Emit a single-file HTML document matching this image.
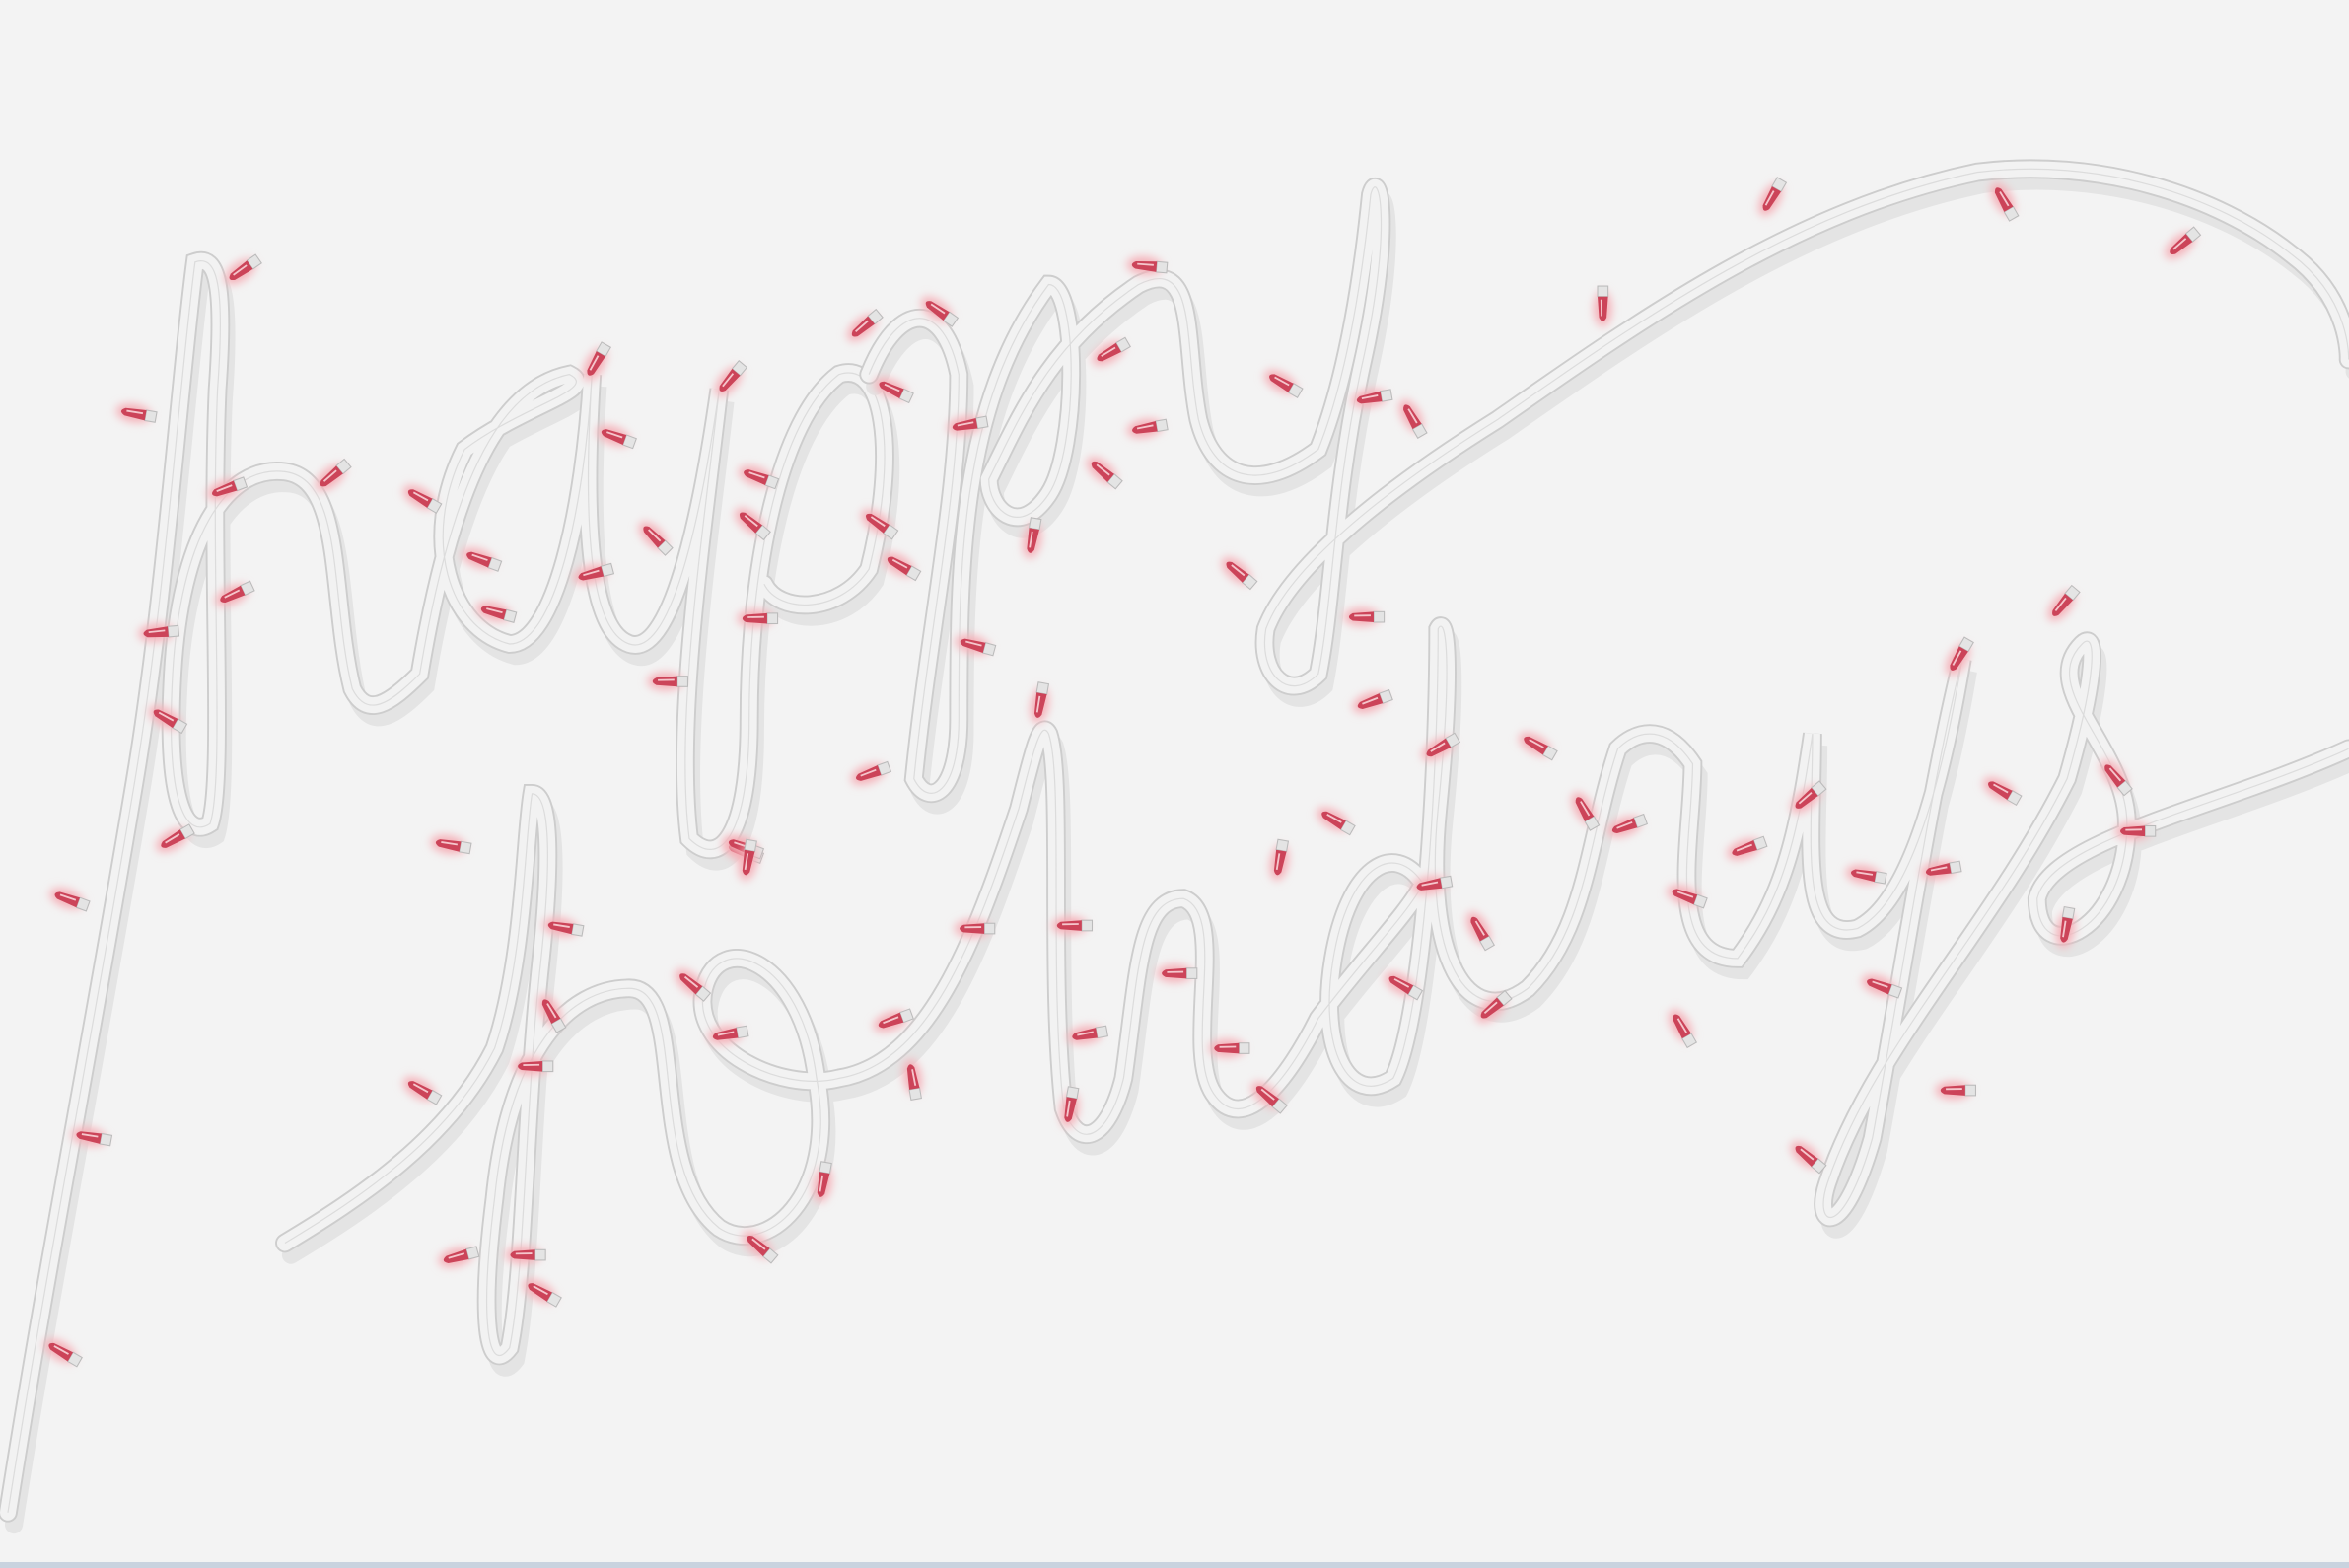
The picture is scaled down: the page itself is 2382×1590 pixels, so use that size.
<!DOCTYPE html>
<html>
<head>
<meta charset="utf-8">
<style>
html,body{margin:0;padding:0;background:#f3f3f3;}
#wrap{width:2382px;height:1590px;position:relative;overflow:hidden;background:#f3f3f3;}
svg{position:absolute;left:0;top:0;}
#bottom-line{position:absolute;left:0;top:1584px;width:2382px;height:6px;background:#c9d3df;}
</style>
</head>
<body>
<div id="wrap">
<svg id="art" width="2382" height="1590" viewBox="0 0 1568 1047">
  <defs>
    <filter id="glow" x="-100%" y="-100%" width="300%" height="300%">
      <feGaussianBlur stdDeviation="3"/>
    </filter>
  </defs>
  <text x="700" y="600" font-family="Liberation Serif, serif" font-size="40" fill="#f3f3f3" fill-opacity="0.02">happy holidays</text>
  <g id="cords"></g>
  <g id="bulbs"></g>
</svg>
<div id="bottom-line"></div>
</div>
<script>
const cordPaths = [
"M5,1010 C30,850 60,700 90,520 C110,400 120,250 130,175 C145,170 150,190 145,260 C140,380 150,520 140,550 C125,560 110,540 115,450 C120,360 150,310 190,315 C230,320 220,400 235,460 C245,480 260,470 280,450 C300,330 330,260 380,250 C400,260 350,270 310,300 C280,360 300,420 340,430 C370,430 390,340 395,250 C390,330 390,420 420,430 C450,440 470,330 480,260 C470,350 450,480 460,560 C480,580 500,560 500,480 C500,380 520,280 560,250 C590,240 600,300 580,380 C560,410 520,410 510,390",
"M580,250 C600,200 630,200 640,250 C640,330 620,420 610,520 C620,540 640,530 640,480 C640,380 640,270 700,190 C720,190 720,300 700,330 C680,360 660,340 660,320 C680,280 700,230 760,190 C800,170 790,230 800,280 C810,320 840,330 880,300 C900,250 910,180 915,130 C920,110 930,150 910,240 C890,330 890,400 880,450 C860,470 840,450 845,420 C860,380 920,330 1000,280 C1100,210 1200,140 1320,115 C1400,105 1480,130 1530,170 C1570,200 1568,240 1568,240",
"M190,830 C240,800 300,760 330,700 C350,640 350,560 355,530 C365,530 370,560 360,650 C350,750 350,850 340,900 C325,920 320,880 330,800 C340,700 380,660 420,660 C460,660 430,780 480,820 C510,840 560,800 545,720 C535,640 480,620 470,660 C460,700 520,730 560,720 C620,710 650,630 680,540 C690,500 695,480 700,490 C710,520 700,650 710,740 C720,770 740,760 750,720 C760,650 760,600 790,600 C820,610 790,700 810,730 C830,760 860,720 880,680 C910,640 940,610 950,590 C930,560 900,580 890,640 C880,700 900,740 930,720 C950,680 960,520 960,420 C965,410 970,440 960,540 C950,640 980,690 1020,660 C1060,620 1060,560 1080,500 C1090,490 1110,480 1130,510 C1130,560 1110,640 1160,640 C1190,600 1200,560 1210,490 C1210,560 1200,630 1240,620 C1280,600 1300,500 1310,440 C1290,520 1270,650 1250,760 C1230,830 1210,820 1220,790 C1250,700 1330,620 1380,520 C1400,450 1400,420 1390,430 C1360,460 1420,500 1420,550 C1420,620 1360,650 1360,600 C1370,560 1480,540 1568,500"
];
const bulbX = [165,95,155,225,110,160,115,120,50,65,45,285,325,335,400,415,400,440,450,490,510,505,510,500,580,630,600,590,605,650,655,585,500,770,745,740,690,770,860,920,945,830,915,920,1070,1185,1340,1460,305,380,370,285,360,355,310,365,465,490,500,600,610,550,510,655,695,720,730,790,715,825,850,855,895,960,965,990,940,1000,1030,1060,1090,1130,1125,1170,1210,1250,1300,1310,1260,1210,1310,1340,1380,1415,1430,1380];
const bulbY = [178,277,325,315,422,395,482,558,602,760,905,335,375,410,238,293,382,362,455,250,320,352,413,570,215,210,262,352,380,283,432,515,567,178,233,318,355,285,258,265,283,385,412,467,200,128,138,160,565,620,680,730,712,838,838,865,660,690,570,680,725,785,835,620,465,618,690,650,735,700,735,570,550,590,497,625,660,670,500,545,550,600,690,565,530,585,580,435,660,775,728,530,400,522,555,615];
const bulbA = [-35,10,-20,-40,-5,-25,30,-30,20,10,30,30,20,15,-60,20,-15,45,0,-50,20,40,0,20,-40,35,25,35,30,-10,15,-20,20,5,-30,40,-80,-10,30,-10,60,40,0,-20,-90,-60,60,-40,10,10,60,30,0,0,-15,30,40,-10,-80,-20,80,-80,40,0,-80,0,-10,0,-80,0,40,-80,30,-10,-30,60,30,-40,30,60,-20,20,60,-20,-40,10,-10,-60,20,40,0,30,-50,50,0,-80];

const NS = "http://www.w3.org/2000/svg";
const cords = document.getElementById('cords');
cordPaths.forEach((d, i) => {
  const sh = document.createElementNS(NS, 'path');
  sh.setAttribute('d', d);
  sh.setAttribute('transform', 'translate(4,8)');
  sh.setAttribute('fill', 'none');
  sh.setAttribute('stroke', '#e4e4e4');
  sh.setAttribute('stroke-width', '12');
  sh.setAttribute('stroke-linecap', 'round');
  
  
  cords.appendChild(sh);
  const o = document.createElementNS(NS, 'path');
  o.setAttribute('d', d);
  o.setAttribute('fill', 'none');
  o.setAttribute('stroke', '#cdcdcd');
  o.setAttribute('stroke-width', '13');
  o.setAttribute('stroke-linecap', 'round');
  
  
  cords.appendChild(o);
  const p = document.createElementNS(NS, 'path');
  p.setAttribute('d', d);
  p.setAttribute('fill', 'none');
  p.setAttribute('stroke', '#f2f2f2');
  p.setAttribute('stroke-width', '10.5');
  p.setAttribute('stroke-linecap', 'round');
  
  
  cords.appendChild(p);
  const c = document.createElementNS(NS, 'path');
  c.setAttribute('d', d);
  c.setAttribute('fill', 'none');
  c.setAttribute('stroke', '#dcdcdc');
  c.setAttribute('stroke-width', '0.8');
  
  
  cords.appendChild(c);
});
const bulbs = document.getElementById('bulbs');
bulbX.forEach((x, i) => {
  const g = document.createElementNS(NS, 'g');
  g.setAttribute('transform', 'translate(' + x + ',' + bulbY[i] + ') rotate(' + bulbA[i] + ')');
  
  
  const glow = document.createElementNS(NS, 'ellipse');
  glow.setAttribute('cx', '-6'); glow.setAttribute('cy', '0');
  glow.setAttribute('rx', '12'); glow.setAttribute('ry', '6');
  glow.setAttribute('fill', '#f5b0b8');
  glow.setAttribute('filter', 'url(#glow)');
  g.appendChild(glow);
  const sock = document.createElementNS(NS, 'rect');
  sock.setAttribute('x', '2'); sock.setAttribute('y', '-3.5');
  sock.setAttribute('width', '7'); sock.setAttribute('height', '7');
  sock.setAttribute('fill', '#e4e4e4'); sock.setAttribute('stroke', '#bbb'); sock.setAttribute('stroke-width', '0.7');
  g.appendChild(sock);
  const b = document.createElementNS(NS, 'path');
  b.setAttribute('d', 'M2,-3.5 L-12,-2.5 Q-17,0 -12,2.5 L2,3.5 Z');
  b.setAttribute('fill', '#cc4459');
  g.appendChild(b);
  const hl = document.createElementNS(NS, 'path');
  hl.setAttribute('d', 'M0,-1 L-11,-0.8');
  hl.setAttribute('stroke', '#f5c6cc'); hl.setAttribute('stroke-width', '1.2');
  g.appendChild(hl);
  bulbs.appendChild(g);
});
</script>
</body>
</html>
